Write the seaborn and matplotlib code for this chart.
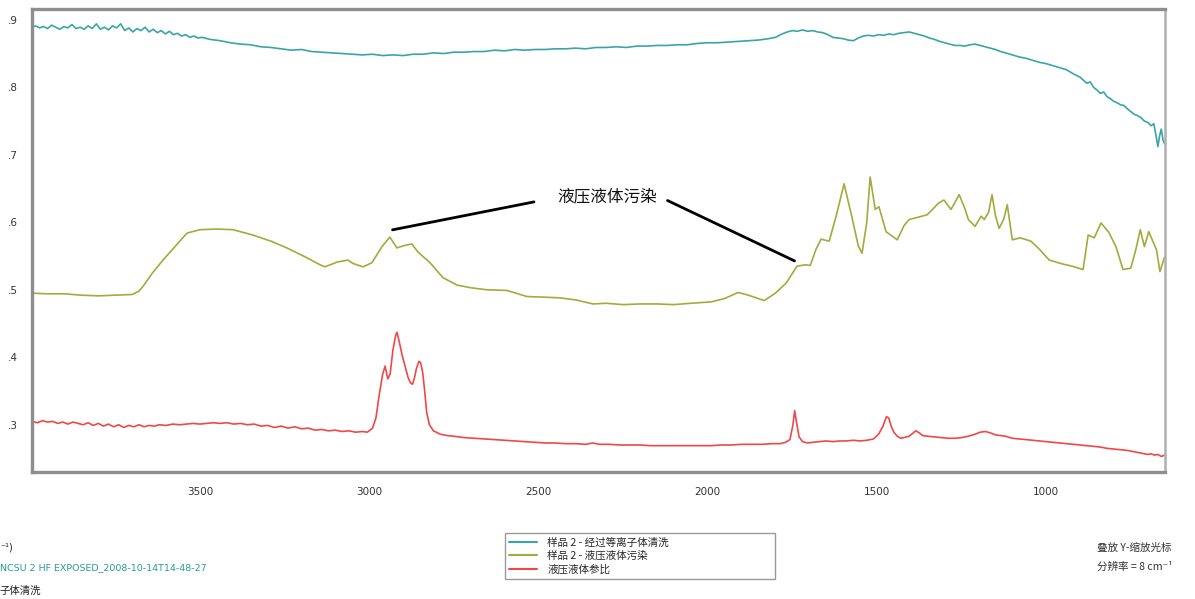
import numpy as np
import pandas as pd
import matplotlib
matplotlib.use("Agg")
import matplotlib.pyplot as plt
from matplotlib.lines import Line2D
from matplotlib.ticker import FuncFormatter
import seaborn as sns

# ---------------- spectra (wavenumber in cm-1, absorbance) ----------------
plasma_wn = [3996, 3985, 3974, 3962, 3950, 3938, 3926, 3914, 3902, 3890, 3878, 3866, 3854,
             3842, 3830, 3818, 3806, 3794, 3782, 3770, 3758, 3746, 3734, 3722, 3710, 3698,
             3686, 3674, 3662, 3650, 3638, 3626, 3614, 3602, 3590, 3578, 3566, 3554, 3542,
             3530, 3518, 3506, 3494, 3470, 3440, 3410, 3380, 3350, 3320, 3290, 3260, 3230,
             3200, 3170, 3140, 3110, 3080, 3050, 3020, 2990, 2960, 2930, 2900, 2870, 2840,
             2810, 2780, 2750, 2720, 2690, 2660, 2630, 2600, 2570, 2540, 2510, 2480, 2450,
             2420, 2390, 2360, 2330, 2300, 2270, 2240, 2210, 2180, 2150, 2120, 2090, 2060,
             2030, 2000, 1970, 1940, 1910, 1880, 1850, 1820, 1800, 1780, 1765, 1750, 1735,
             1720, 1705, 1690, 1675, 1660, 1645, 1630, 1615, 1600, 1585, 1570, 1555, 1540,
             1525, 1510, 1495, 1480, 1465, 1450, 1435, 1420, 1405, 1390, 1375, 1360, 1345,
             1330, 1315, 1300, 1285, 1270, 1255, 1240, 1225, 1210, 1195, 1180, 1165, 1150,
             1135, 1120, 1100, 1080, 1060, 1040, 1020, 1000, 980, 960, 940, 920, 900, 880,
             870, 860, 850, 840, 830, 820, 810, 800, 790, 780, 770, 760, 750, 740, 730, 720,
             710, 700, 690, 682, 676, 670, 665, 660, 655, 650]
plasma_abs = [0.889, 0.891, 0.888, 0.890, 0.887, 0.892, 0.889, 0.886, 0.890, 0.888, 0.893, 0.887,
              0.889, 0.886, 0.891, 0.887, 0.894, 0.886, 0.889, 0.885, 0.891, 0.888, 0.894, 0.884,
              0.888, 0.882, 0.887, 0.884, 0.889, 0.882, 0.886, 0.881, 0.884, 0.879, 0.883, 0.878,
              0.880, 0.876, 0.878, 0.874, 0.876, 0.873, 0.874, 0.871, 0.869, 0.866, 0.864, 0.863,
              0.860, 0.859, 0.857, 0.855, 0.856, 0.853, 0.852, 0.851, 0.850, 0.849, 0.848, 0.849,
              0.847, 0.848, 0.847, 0.849, 0.849, 0.851, 0.850, 0.852, 0.852, 0.853, 0.853, 0.855,
              0.854, 0.856, 0.855, 0.856, 0.856, 0.857, 0.857, 0.858, 0.857, 0.859, 0.859, 0.860,
              0.859, 0.861, 0.861, 0.862, 0.862, 0.863, 0.863, 0.865, 0.866, 0.866, 0.867, 0.868,
              0.869, 0.870, 0.872, 0.874, 0.879, 0.882, 0.884, 0.883, 0.885, 0.883, 0.884, 0.882,
              0.881, 0.878, 0.874, 0.873, 0.872, 0.870, 0.869, 0.873, 0.876, 0.877, 0.876, 0.878,
              0.877, 0.879, 0.878, 0.880, 0.881, 0.882, 0.880, 0.878, 0.876, 0.873, 0.871, 0.868,
              0.866, 0.864, 0.862, 0.862, 0.861, 0.863, 0.864, 0.862, 0.860, 0.858, 0.856, 0.853,
              0.851, 0.848, 0.845, 0.843, 0.840, 0.837, 0.835, 0.832, 0.829, 0.826, 0.820, 0.815,
              0.806, 0.808, 0.800, 0.796, 0.791, 0.793, 0.786, 0.783, 0.779, 0.777, 0.774, 0.773,
              0.768, 0.764, 0.760, 0.758, 0.755, 0.750, 0.748, 0.743, 0.746, 0.730, 0.712, 0.728,
              0.738, 0.722, 0.716]

fluid_wn = [3996, 3950, 3900, 3850, 3800, 3750, 3700, 3680, 3668, 3640, 3609, 3570, 3538, 3500,
            3450, 3402, 3343, 3290, 3243, 3190, 3145, 3131, 3110, 3095, 3063, 3048, 3018, 2992,
            2962, 2939, 2918, 2900, 2874, 2856, 2820, 2782, 2741, 2700, 2652, 2593, 2534, 2480,
            2436, 2390, 2339, 2300, 2250, 2200, 2150, 2100, 2050, 1990, 1950, 1910, 1880, 1833,
            1800, 1768, 1736, 1710, 1697, 1680, 1665, 1641, 1620, 1597, 1575, 1555, 1544, 1530,
            1520, 1505, 1494, 1473, 1440, 1420, 1405, 1352, 1330, 1319, 1302, 1281, 1257, 1240,
            1230, 1210, 1192, 1183, 1170, 1160, 1150, 1139, 1125, 1115, 1100, 1077, 1045, 1020,
            991, 950, 924, 891, 876, 858, 838, 815, 794, 773, 750, 735, 722, 710, 697, 674, 664,
            650]
fluid_abs = [0.495, 0.494, 0.494, 0.492, 0.491, 0.492, 0.493, 0.498, 0.505, 0.525, 0.544, 0.566,
             0.584, 0.589, 0.590, 0.589, 0.581, 0.572, 0.562, 0.549, 0.537, 0.534, 0.538, 0.541,
             0.544, 0.539, 0.534, 0.540, 0.564, 0.578, 0.562, 0.565, 0.568, 0.556, 0.540, 0.518,
             0.507, 0.503, 0.500, 0.499, 0.490, 0.489, 0.488, 0.485, 0.479, 0.480, 0.478, 0.479,
             0.479, 0.478, 0.480, 0.482, 0.487, 0.496, 0.492, 0.484, 0.495, 0.510, 0.535, 0.537,
             0.536, 0.560, 0.575, 0.572, 0.610, 0.657, 0.610, 0.565, 0.554, 0.600, 0.667, 0.619,
             0.623, 0.586, 0.574, 0.595, 0.604, 0.611, 0.622, 0.628, 0.633, 0.619, 0.641, 0.620,
             0.604, 0.594, 0.609, 0.604, 0.615, 0.641, 0.610, 0.591, 0.605, 0.626, 0.574, 0.577,
             0.572, 0.560, 0.544, 0.538, 0.535, 0.530, 0.581, 0.577, 0.599, 0.585, 0.564, 0.530,
             0.532, 0.560, 0.589, 0.564, 0.586, 0.559, 0.527, 0.549]

ref_wn = [3996, 3980, 3965, 3950, 3935, 3920, 3905, 3890, 3875, 3860, 3845, 3830, 3815, 3800,
          3785, 3770, 3755, 3740, 3725, 3710, 3695, 3680, 3665, 3650, 3635, 3620, 3600, 3580,
          3560, 3540, 3520, 3500, 3480, 3460, 3440, 3420, 3400, 3380, 3360, 3340, 3320, 3300,
          3280, 3260, 3240, 3220, 3200, 3180, 3160, 3140, 3120, 3100, 3080, 3060, 3040, 3020,
          3005, 2990, 2980, 2970, 2960, 2953, 2945, 2938, 2930, 2922, 2918, 2912, 2903, 2893,
          2885, 2878, 2872, 2866, 2860, 2853, 2848, 2842, 2836, 2830, 2822, 2810, 2790, 2770,
          2750, 2720, 2690, 2660, 2630, 2600, 2570, 2540, 2510, 2480, 2450, 2420, 2390, 2360,
          2340, 2320, 2290, 2260, 2230, 2200, 2170, 2140, 2110, 2080, 2050, 2020, 1990, 1960,
          1930, 1900, 1870, 1840, 1810, 1785, 1770, 1757, 1748, 1743, 1738, 1730, 1720, 1705,
          1690, 1670, 1650, 1630, 1610, 1590, 1570, 1550, 1530, 1510, 1495, 1482, 1472, 1465,
          1458, 1450, 1440, 1430, 1420, 1405, 1395, 1385, 1375, 1365, 1350, 1330, 1310, 1290,
          1270, 1250, 1230, 1210, 1195, 1180, 1165, 1150, 1135, 1120, 1100, 1080, 1060, 1040,
          1020, 1000, 980, 960, 940, 920, 900, 880, 860, 840, 820, 800, 780, 760, 740, 720, 700,
          690, 680, 670, 660, 650]
ref_abs = [0.305, 0.303, 0.306, 0.304, 0.305, 0.302, 0.304, 0.301, 0.304, 0.302, 0.300, 0.303,
           0.299, 0.302, 0.298, 0.301, 0.297, 0.300, 0.296, 0.299, 0.297, 0.300, 0.297, 0.299,
           0.298, 0.300, 0.299, 0.301, 0.300, 0.301, 0.302, 0.301, 0.302, 0.303, 0.302, 0.303,
           0.301, 0.302, 0.300, 0.301, 0.298, 0.299, 0.296, 0.298, 0.295, 0.297, 0.294, 0.295,
           0.292, 0.293, 0.291, 0.292, 0.290, 0.291, 0.289, 0.290, 0.289, 0.295, 0.310, 0.345,
           0.375, 0.387, 0.368, 0.375, 0.410, 0.432, 0.437, 0.425, 0.404, 0.385, 0.370, 0.362,
           0.360, 0.370, 0.384, 0.394, 0.392, 0.378, 0.350, 0.318, 0.300, 0.291, 0.286, 0.284,
           0.283, 0.281, 0.280, 0.279, 0.278, 0.277, 0.276, 0.275, 0.274, 0.273, 0.273, 0.272,
           0.272, 0.271, 0.273, 0.271, 0.271, 0.270, 0.270, 0.270, 0.269, 0.269, 0.269, 0.269,
           0.269, 0.269, 0.269, 0.270, 0.270, 0.271, 0.271, 0.271, 0.272, 0.272, 0.274, 0.278,
           0.300, 0.321, 0.305, 0.282, 0.275, 0.273, 0.274, 0.275, 0.276, 0.275, 0.276, 0.276,
           0.277, 0.276, 0.277, 0.279, 0.286, 0.298, 0.312, 0.310, 0.298, 0.289, 0.283, 0.280,
           0.281, 0.283, 0.287, 0.291, 0.288, 0.284, 0.283, 0.282, 0.281, 0.280, 0.280, 0.281,
           0.283, 0.286, 0.289, 0.290, 0.288, 0.285, 0.284, 0.283, 0.280, 0.279, 0.278, 0.277,
           0.276, 0.275, 0.274, 0.273, 0.272, 0.271, 0.270, 0.269, 0.268, 0.267, 0.265, 0.264,
           0.263, 0.262, 0.260, 0.258, 0.256, 0.257, 0.255, 0.256, 0.253, 0.255]

series_names = ["样品 2 - 经过等离子体清洗", "样品 2 - 液压液体污染", "液压液体参比"]
series_colors = ["#3aa5a8", "#a3ab3c", "#f04848"]
x_ticks = [3500, 3000, 2500, 2000, 1500, 1000]
y_ticks = [0.3, 0.4, 0.5, 0.6, 0.7, 0.8, 0.9]

frames = []
for name, wn, ab in zip(series_names, [plasma_wn, fluid_wn, ref_wn],
                        [plasma_abs, fluid_abs, ref_abs]):
    frames.append(pd.DataFrame({"wn": wn, "abs": ab, "series": name}))
spectra = pd.concat(frames, ignore_index=True)

# ---------------- figure ----------------
sns.set_style("white")
plt.rcParams["font.family"] = ["DejaVu Sans", "Noto Sans CJK SC"]

W, H = 1195, 599
fig = plt.figure(figsize=(W / 100, H / 100), dpi=100)
ax = fig.add_axes([32 / W, 1 - 472 / H, (1165 - 32) / W, (472 - 9) / H])

sns.lineplot(data=spectra, x="wn", y="abs", hue="series", hue_order=series_names,
             palette=series_colors, sort=False, estimator=None, legend=False,
             linewidth=1.2, ax=ax)

ax.set_xlim(3996, 649)
ax.set_ylim(0.23, 0.916)
ax.set_xticks(x_ticks)
ax.set_yticks(y_ticks)
ax.yaxis.set_major_formatter(FuncFormatter(lambda v, p: f"{v:.1f}".lstrip("0")))
ax.set_xlabel("")
ax.set_ylabel("")
ax.tick_params(axis="both", direction="out", length=4, width=0.8, color="#a0a0a0",
               labelsize=7.5, labelcolor="#333333")
ax.tick_params(axis="x", pad=7)
ax.tick_params(axis="y", pad=6)
for side, sp in ax.spines.items():
    sp.set_visible(True)
    sp.set_color("#8e8e8e")
    sp.set_linewidth(2.4)
ax.spines["right"].set_color("#b0b0b0")
ax.spines["right"].set_linewidth(1.8)

# callout pointing at the contamination bands
cjk = ["Noto Sans CJK SC", "DejaVu Sans"]
i_left = fluid_wn.index(2939)
i_right = fluid_wn.index(1736)
label_x, label_y = 2298, 0.638
ax.text(label_x, label_y, "液压液体污染", ha="center", va="center", fontsize=12,
        family=cjk, color="#111111")
ax.annotate("", xy=(fluid_wn[i_left], fluid_abs[i_left] + 0.01), xytext=(2505, 0.631),
            arrowprops=dict(arrowstyle="-", color="black", lw=2.0))
ax.annotate("", xy=(fluid_wn[i_right], fluid_abs[i_right] + 0.006), xytext=(2126, 0.634),
            arrowprops=dict(arrowstyle="-", color="black", lw=2.0))

# legend
handles = [Line2D([], [], color=c, lw=1.5) for c in series_colors]
fig.legend(handles, series_names, loc="upper left",
           bbox_to_anchor=(505 / W, 1 - 583 / H, 270 / W, 50 / H), mode="expand",
           frameon=True, fancybox=False, edgecolor="#9a9a9a", framealpha=1,
           prop={"family": cjk, "size": 7.6}, handlelength=2.6, handletextpad=1.0,
           labelspacing=0.3, borderpad=0.4, borderaxespad=0)

# footer notes
fig.text(0 / W, 1 - 547 / H, "⁻¹)", fontsize=7, color="#222222", va="center",
         family=["DejaVu Sans"])
fig.text(0 / W, 1 - 568 / H, "NCSU 2 HF EXPOSED_2008-10-14T14-48-27", fontsize=6.8,
         color="#2a9a9a", va="center", family=["DejaVu Sans"])
fig.text(0 / W, 1 - 591 / H, "子体清洗", fontsize=7.5, color="#222222", va="center",
         family=cjk)
fig.text(1097 / W, 1 - 548 / H, "叠放 Y-缩放光标", fontsize=7.6, color="#333333",
         va="center", family=cjk)
fig.text(1097 / W, 1 - 567 / H, "分辨率 = 8 cm⁻¹", fontsize=7.6, color="#333333",
         va="center", family=cjk)

fig.savefig("out.png", dpi=100, facecolor="white")
